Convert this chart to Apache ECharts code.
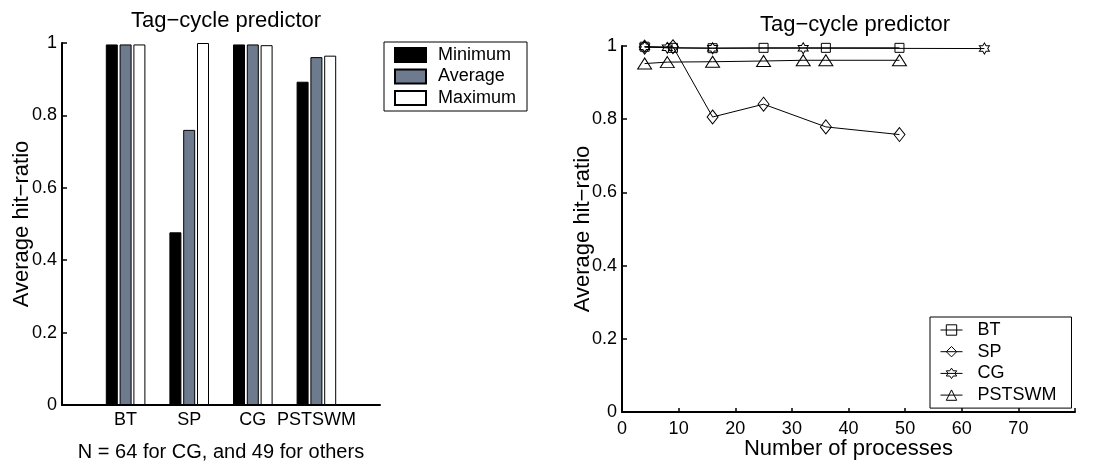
<!DOCTYPE html>
<html>
<head>
<meta charset="utf-8">
<script src="https://cdn.jsdelivr.net/npm/echarts@6/dist/echarts.min.js"></script>
<style>
html, body { margin: 0; padding: 0; background: #fff; }
#chart { width: 1095px; height: 463px; }
</style>
</head>
<body>
<div id="chart"></div>
<script>
// left panel: per benchmark hit ratios
var benchmarks = ['BT', 'SP', 'CG', 'PSTSWM'];
var minHit = [0.996, 0.477, 0.996, 0.893];
var avgHit = [0.996, 0.760, 0.996, 0.961];
var maxHit = [0.996, 1.000, 0.994, 0.965];

// right panel: hit ratio vs number of processes
var btProcs = [4, 9, 16, 25, 36, 49];
var btHit = [0.998, 0.995, 0.994, 0.995, 0.995, 0.995];
var spProcs = [4, 9, 16, 25, 36, 49];
var spHit = [0.997, 0.998, 0.806, 0.841, 0.779, 0.758];
var cgProcs = [4, 8, 16, 32, 64];
var cgHit = [0.998, 0.995, 0.994, 0.994, 0.993];
var psProcs = [4, 8, 16, 25, 32, 36, 49];
var psHit = [0.952, 0.956, 0.957, 0.959, 0.961, 0.961, 0.961];

var font = "'Liberation Sans', Arial, Helvetica, sans-serif";
var hexagram = 'path://M0,-100L-28.9,-50L-86.6,-50L-57.7,0L-86.6,50L-28.9,50L0,100L28.9,50L86.6,50L57.7,0L86.6,-50L28.9,-50Z';

function pairs(xs, ys) {
    return xs.map(function (x, i) { return [x, ys[i]]; });
}
function barData(vals) {
    return vals.map(function (v, i) { return [i + 1, v]; });
}

var chartDom = document.getElementById('chart');
var myChart = echarts.init(chartDom, null, { renderer: 'canvas' });

var axisLine = { show: true, lineStyle: { color: '#000', width: 2 } };
var yLabel = { color: '#000', fontSize: 18, fontFamily: font, margin: 5 };

function lineSeries(name, xs, ys, symbol, size) {
    return {
        name: name,
        type: 'line',
        xAxisIndex: 1,
        yAxisIndex: 1,
        data: pairs(xs, ys),
        symbol: symbol,
        symbolSize: size,
        showAllSymbol: true,
        lineStyle: { color: '#000', width: 1 },
        itemStyle: { color: 'transparent', borderColor: '#000', borderWidth: 1 },
        emphasis: { disabled: true },
        animation: false
    };
}

function barSeries(name, vals, fill) {
    return {
        name: name,
        type: 'bar',
        xAxisIndex: 0,
        yAxisIndex: 0,
        data: barData(vals),
        barWidth: 12,
        barGap: '15%',
        itemStyle: { color: fill, borderColor: '#000', borderWidth: 1 },
        emphasis: { disabled: true },
        animation: false
    };
}

var option = {
    backgroundColor: '#fff',
    textStyle: { fontFamily: font, color: '#000' },
    title: [
        { text: 'Tag\u2212cycle predictor', left: 221, top: 5, textAlign: 'center',
          textStyle: { fontSize: 22, fontWeight: 'normal', color: '#000', fontFamily: font } },
        { text: 'Tag\u2212cycle predictor', left: 850, top: 9, textAlign: 'center',
          textStyle: { fontSize: 22, fontWeight: 'normal', color: '#000', fontFamily: font } }
    ],
    legend: [
        {
            orient: 'vertical', left: 384, top: 42,
            data: ['Minimum', 'Average', 'Maximum'],
            itemWidth: 31, itemHeight: 14, itemGap: 3.5,
            icon: 'rect',
            padding: [4, 11, 4, 10],
            borderColor: '#000', borderWidth: 1,
            textStyle: { fontSize: 18, lineHeight: 18, fontFamily: font, color: '#000', padding: [0, 0, 0, 7] }
        },
        {
            orient: 'vertical', left: 930, top: 317,
            data: ['BT', 'SP', 'CG', 'PSTSWM'],
            itemWidth: 22, itemHeight: 13, itemGap: 3.7,
            padding: [4, 15, 4, 10],
            borderColor: '#000', borderWidth: 1,
            itemStyle: { borderWidth: 1, borderColor: '#000', color: 'transparent' },
            lineStyle: { width: 1, color: '#000' },
            textStyle: { fontSize: 18, lineHeight: 18, fontFamily: font, color: '#000', padding: [0, 0, 0, 10] }
        }
    ],
    grid: [
        { left: 62, top: 43, width: 318, height: 362, outerBoundsMode: 'none', containLabel: false },
        { left: 622, top: 46, width: 453, height: 366, outerBoundsMode: 'none', containLabel: false }
    ],
    xAxis: [
        {
            gridIndex: 0, type: 'value', min: 0, max: 5, interval: 1,
            name: 'N = 64 for CG, and 49 for others', nameLocation: 'middle', nameGap: 37,
            nameMoveOverlap: false,
            nameTextStyle: { fontSize: 20, fontFamily: font, color: '#000' },
            axisLine: axisLine, axisTick: { show: false }, splitLine: { show: false },
            axisLabel: { color: '#000', fontSize: 18, fontFamily: font, margin: 6,
                formatter: function (v) { return benchmarks[v - 1] || ''; } }
        },
        {
            gridIndex: 1, type: 'value', min: 0, max: 80, interval: 10,
            name: 'Number of processes', nameLocation: 'middle', nameGap: 26,
            nameMoveOverlap: false,
            nameTextStyle: { fontSize: 22, fontFamily: font, color: '#000' },
            axisLine: axisLine, splitLine: { show: false },
            axisTick: { show: true, inside: true, length: 4, lineStyle: { color: '#000', width: 1.5 } },
            axisLabel: { color: '#000', fontSize: 18, fontFamily: font, margin: 8,
                formatter: function (v) { return v === 80 ? '' : String(v); } }
        }
    ],
    yAxis: [
        {
            gridIndex: 0, type: 'value', min: 0, max: 1, interval: 0.2,
            name: 'Average hit\u2212ratio', nameLocation: 'middle', nameGap: 29,
            nameMoveOverlap: false,
            nameTextStyle: { fontSize: 22, fontFamily: font, color: '#000' },
            axisLine: axisLine, splitLine: { show: false },
            axisTick: { show: true, inside: true, length: 5, lineStyle: { color: '#000', width: 1.5 } },
            axisLabel: yLabel
        },
        {
            gridIndex: 1, type: 'value', min: 0, max: 1, interval: 0.2,
            name: 'Average hit\u2212ratio', nameLocation: 'middle', nameGap: 28,
            nameMoveOverlap: false,
            nameTextStyle: { fontSize: 22, fontFamily: font, color: '#000' },
            axisLine: axisLine, splitLine: { show: false },
            axisTick: { show: true, inside: true, length: 5, lineStyle: { color: '#000', width: 1.5 } },
            axisLabel: yLabel
        }
    ],
    series: [
        barSeries('Minimum', minHit, '#000'),
        barSeries('Average', avgHit, '#6e7a8e'),
        barSeries('Maximum', maxHit, '#fff'),
        lineSeries('BT', btProcs, btHit, 'rect', 9),
        lineSeries('SP', spProcs, spHit, 'diamond', [11, 14]),
        lineSeries('CG', cgProcs, cgHit, hexagram, [10, 11]),
        lineSeries('PSTSWM', psProcs, psHit, 'triangle', [14, 11])
    ]
};

myChart.setOption(option);
</script>
</body>
</html>
